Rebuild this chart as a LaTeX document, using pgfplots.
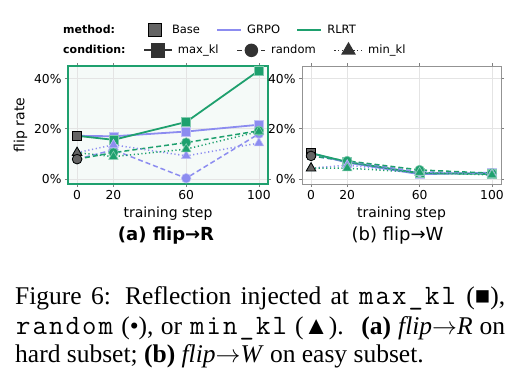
\documentclass[border=0pt]{standalone}
\usepackage{fontspec}
\setmainfont{DejaVu Sans}
\newfontfamily\capserif{Liberation Serif}
\usepackage{pgfplots}
\pgfplotsset{compat=1.18}

\definecolor{grpo}{RGB}{140,140,240}
\definecolor{rlrt}{RGB}{30,160,110}
\definecolor{basegray}{RGB}{100,100,100}
\definecolor{gridc}{RGB}{228,228,228}
\definecolor{mint}{RGB}{245,250,248}
\definecolor{dark}{RGB}{50,50,50}

\newcommand\mb[1]{\makebox[16.5pt]{#1}}
\newcommand\mono[1]{{\ttfamily\fontsize{28}{30}\selectfont #1}}

\pgfplotsset{
  panel/.style={scale only axis, width=200pt, height=118pt,
    xmin=-5, xmax=105, ymin=-2, ymax=45,
    xtick={0,20,60,100}, ytick={0,20,40},
    yticklabel={\pgfmathprintnumber{\tick}\%},
    grid=major, major grid style={gridc, line width=0.6pt},
    tick align=outside, major tick length=3pt,
    tick style={gray, line width=0.6pt},
    ticklabel style={font=\fontsize{12.3}{14}\selectfont},
    label style={font=\fontsize{14}{16}\selectfont},
    xlabel={training step},
    /pgf/number format/assume math mode=true, clip=false},
  mksq/.style={mark=square*, mark size=4.5pt},
  mkci/.style={mark=*, mark size=4.8pt},
  mktr/.style={mark=triangle*, mark size=5.5pt},
  sg/.style={grpo, mark options={solid, fill=grpo, draw=grpo!55!white, line width=0.6pt}},
  sr/.style={rlrt, mark options={solid, fill=rlrt, draw=rlrt!55!white, line width=0.6pt}},
  lmax/.style={solid, line width=1.8pt},
  lran/.style={dash pattern=on 5pt off 3pt, line width=1.5pt},
  lmin/.style={dash pattern=on 1.2pt off 2.6pt, line width=1.5pt},
  basem/.style={only marks, mark options={solid, fill=basegray, draw=black, line width=0.8pt}},
  legline/.style={legend image code/.code={\draw[##1] (0pt,0pt) -- (24pt,0pt);}},
  legmark/.style={legend image code/.code={\path (0pt,0pt) (18pt,0pt); \draw[##1] plot coordinates {(6.5pt,0pt)};}},
  legcond/.style={legend image code/.code={\draw[mark repeat=2, mark phase=2, ##1] plot coordinates {(0pt,0pt) (14pt,0pt) (28pt,0pt)};}},
  legax/.style={hide axis, scale only axis, width=528pt, height=40pt,
    at={(0pt,313pt)}, anchor=south west, xmin=0, xmax=528, ymin=0, ymax=40,
    legend columns=-1},
  legsty/.style={legend style={anchor=west, draw=none, fill=none,
    inner sep=0pt, font=\fontsize{11.5}{13}\selectfont,
    nodes={inner xsep=0pt, inner ysep=1pt},
    /tikz/every odd column/.append style={column sep=5pt},
    /tikz/every even column/.append style={column sep=#1}}},
}

\begin{document}
\begin{tikzpicture}[x=1pt,y=1pt]
\path[use as bounding box] (0,0) rectangle (528,373);

% ---------- legend headers ----------
\node[anchor=base west, inner sep=0pt, font=\fontsize{11}{13}\selectfont\bfseries] at (63,339) {method:};
\node[anchor=base west, inner sep=0pt, font=\fontsize{11}{13}\selectfont\bfseries] at (63,319) {condition:};

% ---------- legend row 1 ----------
\begin{axis}[legax, legsty=16pt, legend style={at={(0.2803,0.75)}}]
\addlegendimage{legmark, only marks, mark=square*, mark size=6.3pt, fill=basegray, draw=black, line width=0.8pt}
\addlegendentry{Base}
\addlegendimage{legline, grpo, line width=2.2pt}
\addlegendentry{GRPO}
\addlegendimage{legline, rlrt, line width=2.2pt}
\addlegendentry{RLRT}
\end{axis}

% ---------- legend row 2 ----------
\begin{axis}[legax, legsty=18pt, legend style={at={(0.2708,0.25)}}]
\addlegendimage{legcond, dark, lmax, mark=square*, mark size=6.3pt, mark options={solid, fill=dark}}
\addlegendentry{max\_kl}
\addlegendimage{legcond, dark, lran, mark=*, mark size=6pt, mark options={solid, fill=dark}}
\addlegendentry{random}
\addlegendimage{legcond, dark, lmin, mark=triangle*, mark size=7pt, mark options={solid, fill=dark}}
\addlegendentry{min\_kl}
\end{axis}

% ---------- panel (a) ----------
\begin{axis}[panel, at={(68pt,189pt)}, anchor=south west,
  axis background/.style={fill=mint},
  axis line style={rlrt, line width=1.5pt},
  ylabel={flip rate}]
\addplot[sg, lmax, mksq] coordinates {(0,17.2) (20,17.0) (60,18.9) (100,21.6)};
\addplot[sr, lmax, mksq] coordinates {(0,17.2) (20,15.6) (60,22.7) (100,43.2)};
\addplot[sg, lran, mkci] coordinates {(0,7.9) (20,11.6) (60,0.3) (100,18.0)};
\addplot[sr, lran, mkci] coordinates {(0,7.9) (20,10.5) (60,14.5) (100,19.2)};
\addplot[sg, lmin, mktr] coordinates {(0,10.5) (20,13.6) (60,9.2) (100,14.3)};
\addplot[sr, lmin, mktr] coordinates {(0,10.5) (20,8.9) (60,11.9) (100,18.9)};
\addplot[basem, mksq] coordinates {(0,17.2)};
\addplot[basem, mktr] coordinates {(0,10.5)};
\addplot[basem, mkci] coordinates {(0,7.9)};
\node[anchor=base, font=\fontsize{18}{20}\selectfont\bfseries] at (rel axis cs:0.49,-0.475) {(a) flip→R};
\end{axis}

% ---------- panel (b) ----------
\begin{axis}[panel, at={(302pt,189pt)}, anchor=south west, width=199pt,
  axis line style={gray!85, line width=0.8pt}]
\addplot[sg, lmax, mksq] coordinates {(0,10.3) (20,6.5) (60,1.9) (100,2.5)};
\addplot[sr, lmax, mksq] coordinates {(0,10.3) (20,6.8) (60,2.3) (100,2.0)};
\addplot[sg, lran, mkci] coordinates {(0,9.2) (20,7.0) (60,2.8) (100,2.2)};
\addplot[sr, lran, mkci] coordinates {(0,9.2) (20,7.2) (60,3.6) (100,2.3)};
\addplot[sg, lmin, mktr] coordinates {(0,4.3) (20,5.5) (60,2.5) (100,2.0)};
\addplot[sr, lmin, mktr] coordinates {(0,4.3) (20,4.3) (60,2.6) (100,1.6)};
\addplot[basem, mksq] coordinates {(0,10.3)};
\addplot[basem, mkci] coordinates {(0,9.2)};
\addplot[basem, mktr] coordinates {(0,4.3)};
\node[anchor=base, font=\fontsize{18}{20}\selectfont] at (rel axis cs:0.48,-0.475) {(b) flip→W};
\end{axis}

% ---------- caption ----------
\begin{scope}[every node/.style={anchor=base west, inner sep=0pt, font=\capserif\fontsize{25.5}{28}\selectfont}]
\node at (15,69) {\makebox[490pt][s]{Figure 6: Reflection injected at \mono{\mb{m}\mb{a}\mb{x}\mb{\_}\mb{k}\mb{l}} (■),}};
\node at (15,39) {\makebox[490pt][s]{\mono{\mb{r}\mb{a}\mb{n}\mb{d}\mb{o}\mb{m}} (•), or \mono{\mb{m}\mb{i}\mb{n}\mb{\_}\mb{k}\mb{l}} (▲). \ \textbf{(a)} \textit{flip}$\rightarrow$\textit{R} on}};
\node at (15,11) {hard subset; \textbf{(b)} \textit{flip}$\rightarrow$\textit{W} on easy subset.};
\end{scope}
\end{tikzpicture}
\end{document}
